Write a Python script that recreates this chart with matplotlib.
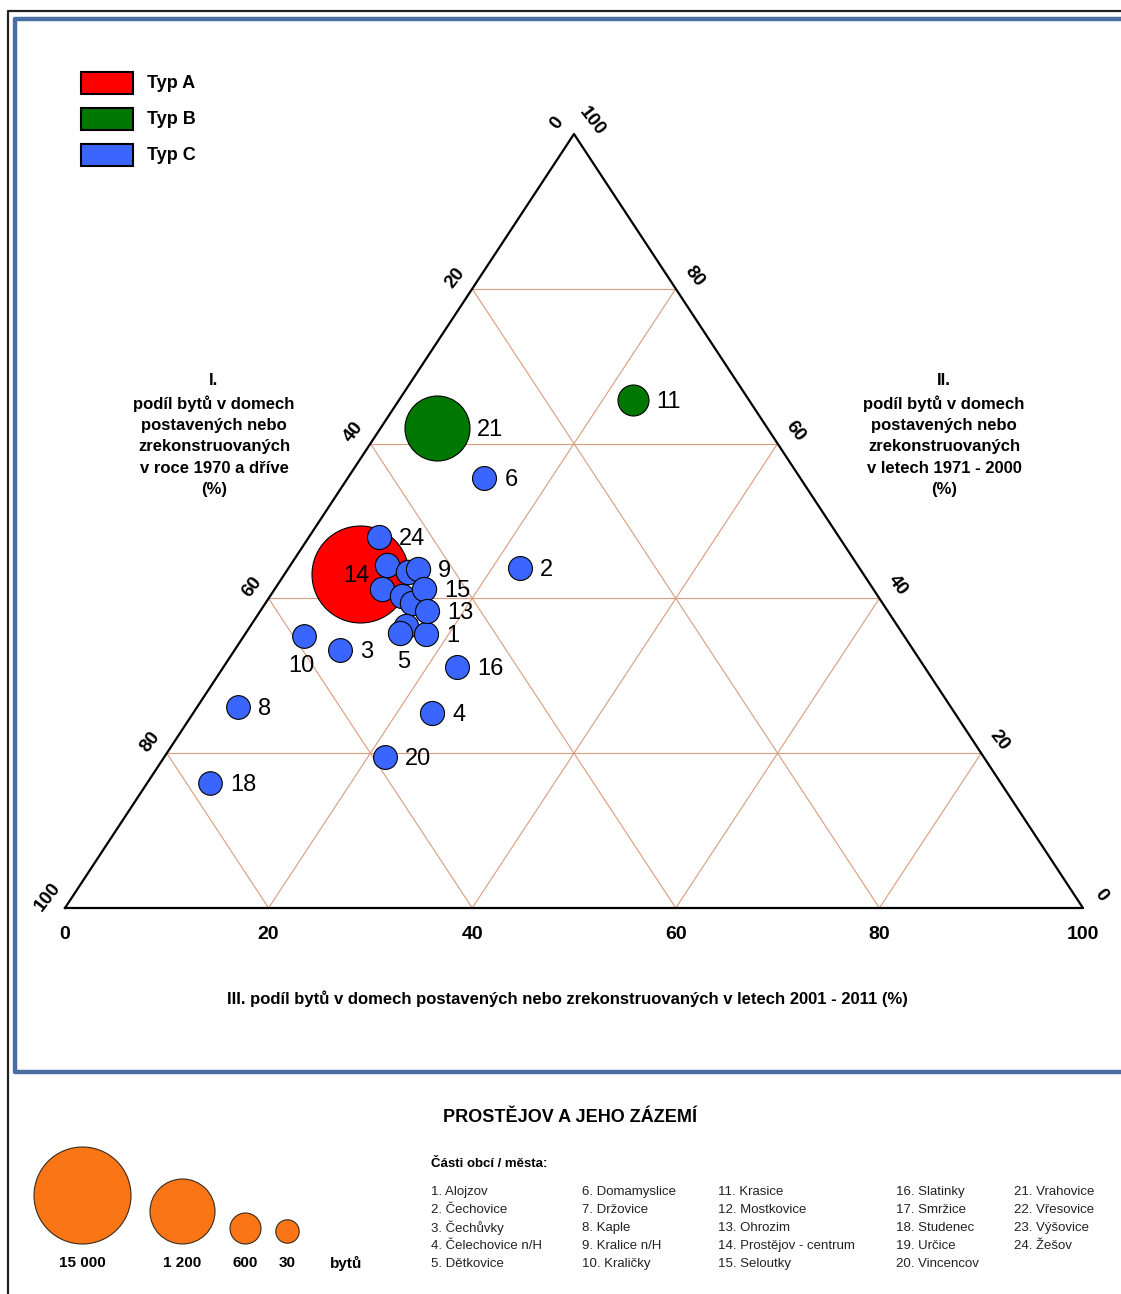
import numpy as np
import matplotlib.pyplot as plt
from matplotlib.patches import Rectangle

plt.rcParams['font.family'] = ['Liberation Sans', 'DejaVu Sans']

# data: shares of flats by construction period (%)
ids = list(range(1, 25))
names = ['Alojzov', 'Čechovice', 'Čechůvky', 'Čelechovice n/H', 'Dětkovice',
         'Domamyslice', 'Držovice', 'Kaple', 'Kralice n/H', 'Kraličky',
         'Krasice', 'Mostkovice', 'Ohrozim', 'Prostějov - centrum', 'Seloutky',
         'Slatinky', 'Smržice', 'Studenec', 'Určice', 'Vincencov',
         'Vrahovice', 'Vřesovice', 'Výšovice', 'Žešov']
share_1970 = [46.8, 33.4, 56.3, 51.3, 49.3, 31.0, 46.2, 70.0, 43.4, 59.0, 11.4, 44.6,
              45.2, 49.4, 44.1, 45.9, 48.3, 77.7, 46.7, 58.8, 32.5, 46.2, 48.3, 45.2]
share_1971_2000 = [35.4, 43.9, 33.3, 25.2, 35.5, 55.6, 44.3, 26.0, 43.8, 35.1, 65.6, 43.4,
                   38.4, 43.2, 41.2, 31.1, 41.2, 16.1, 40.3, 19.5, 62.0, 39.4, 36.4, 47.9]
share_2001_2011 = [17.8, 22.7, 10.4, 23.5, 15.2, 13.4, 9.5, 4.0, 12.8, 5.9, 23.0, 12.0,
                   16.4, 7.4, 14.7, 23.0, 10.5, 6.2, 13.0, 21.7, 5.5, 14.4, 15.3, 6.9]
flats = [80, 70, 60, 80, 90, 70, 100, 50, 90, 50, 600, 100,
         80, 15000, 90, 70, 100, 40, 100, 60, 1200, 100, 100, 80]
types = ['C', 'C', 'C', 'C', 'C', 'C', 'C', 'C', 'C', 'C', 'B', 'C',
         'C', 'A', 'C', 'C', 'C', 'C', 'C', 'C', 'B', 'C', 'C', 'C']

legend_flats = [15000, 1200, 600, 30]
legend_labels = ['15 000', '1 200', '600', '30']

type_colors = {'A': '#FF0000', 'B': '#007800', 'C': '#3A66FF'}
grid_color = '#D99C7C'
# points hidden inside the cluster carry no number in the chart
unlabelled = {7, 12, 17, 19, 22, 23}


def radius_px(n):
    return np.interp(n, [30, 600, 1200, 15000], [11.7, 15.5, 32.5, 48.5])


def size_pt2(n):
    return (2 * radius_px(n) * 0.72) ** 2


W, H = 1121, 1294
fig = plt.figure(figsize=(W / 100, H / 100), dpi=100)

# overlay axes in pixel coordinates for frames, legends and notes
ax0 = fig.add_axes([0, 0, 1, 1])
ax0.set_xlim(0, W)
ax0.set_ylim(H, 0)
ax0.axis('off')

ax0.plot([8, 8, W], [H, 11, 11], color='#222222', lw=1.6)
ax0.plot([W, 15, 15, W], [19, 19, 1072, 1072], color='#4A6EA2', lw=3.2)

# ternary axes: x = III + II/2, y = II
L, R, B, T = 65, 1083, 908, 134
ax = fig.add_axes([L / W, (H - B) / H, (R - L) / W, (B - T) / H])
ax.set_xlim(0, 100)
ax.set_ylim(0, 100)
ax.axis('off')
ax.patch.set_alpha(0)


def tern(ii, iii):
    ii = np.asarray(ii, dtype=float)
    iii = np.asarray(iii, dtype=float)
    return iii + ii / 2, ii


for v in [20, 40, 60, 80]:
    # constant II (horizontal)
    x, y = tern([v, v], [0, 100 - v])
    ax.plot(x, y, color=grid_color, lw=0.8, zorder=1)
    # constant III
    x, y = tern([0, 100 - v], [v, v])
    ax.plot(x, y, color=grid_color, lw=0.8, zorder=1)
    # constant I
    x, y = tern([0, 100 - v], [100 - v, 0])
    ax.plot(x, y, color=grid_color, lw=0.8, zorder=1)

ax.plot([0, 100, 50, 0], [0, 0, 100, 0], color='black', lw=1.6, zorder=2, clip_on=False)

ticks = [0, 20, 40, 60, 80, 100]
for v in ticks:
    ax.annotate(str(v), (v, 0), xytext=(0, -19), textcoords='offset points',
                ha='center', va='center', fontsize=14, fontweight='bold')
    x, y = tern(100 - v, 0)
    ax.annotate(str(v), (x, y), xytext=(-12, 8), textcoords='offset points',
                ha='center', va='center', fontsize=13.5, fontweight='bold', rotation=52)
    x, y = tern(v, 100 - v)
    ax.annotate(str(v), (x, y), xytext=(13, 9), textcoords='offset points',
                ha='center', va='center', fontsize=13.5, fontweight='bold', rotation=-52)

# bubbles, largest first
px, py = tern(share_1971_2000, share_2001_2011)
order = sorted(range(len(ids)), key=lambda i: -flats[i])
for k, i in enumerate(order):
    ax.scatter(px[i], py[i], s=size_pt2(flats[i]), color=type_colors[types[i]],
               edgecolors='black', linewidths=0.8, zorder=3 + k * 0.01, clip_on=False)

special = {14: ('center', -4, -2), 10: ('center', -2, -30), 5: ('center', 3, -29)}
for i, n in enumerate(ids):
    if n in unlabelled:
        continue
    if n in special:
        ha, dx, dy = special[n]
    else:
        ha, dx, dy = 'left', radius_px(flats[i]) + 8, -2
    ax.annotate(str(n), (px[i], py[i]), xytext=(dx * 0.72, dy * 0.72),
                textcoords='offset points', ha=ha, va='center', fontsize=17, zorder=5)

# axis titles
ax0.text(214, 435, 'I.\npodíl bytů v domech\npostavených nebo\nzrekonstruovaných\n'
         'v roce 1970 a dříve\n(%)', ha='center', va='center', fontsize=12,
         fontweight='bold', linespacing=1.52)
ax0.text(944, 435, 'II.\npodíl bytů v domech\npostavených nebo\nzrekonstruovaných\n'
         'v letech 1971 - 2000\n(%)', ha='center', va='center', fontsize=12,
         fontweight='bold', linespacing=1.52)
ax0.text(567, 999, 'III. podíl bytů v domech postavených nebo zrekonstruovaných '
         'v letech 2001 - 2011 (%)', ha='center', va='center', fontsize=12, fontweight='bold')

# type legend
for k, t in enumerate(['A', 'B', 'C']):
    y0 = 72 + 36 * k
    ax0.add_patch(Rectangle((81, y0), 52, 22, facecolor=type_colors[t],
                            edgecolor='black', lw=1.5))
    ax0.text(147, y0 + 12, 'Typ ' + t, ha='left', va='center', fontsize=13, fontweight='bold')

# size legend
leg_x = [82, 182, 245, 287]
for x, n, lab in zip(leg_x, legend_flats, legend_labels):
    r = radius_px(n)
    ax0.scatter(x, 1243 - r, s=size_pt2(n), color='#F97516', edgecolors='#3a2a1a', linewidths=0.8)
    ax0.text(x, 1263, lab, ha='center', va='center', fontsize=11, fontweight='bold')
ax0.text(346, 1263, 'bytů', ha='center', va='center', fontsize=11, fontweight='bold')

ax0.text(570, 1117, 'PROSTĚJOV A JEHO ZÁZEMÍ', ha='center', va='center',
         fontsize=13, fontweight='bold')
ax0.text(431, 1164, 'Části obcí / města:', ha='left', va='center', fontsize=9.5, fontweight='bold')
col_x = [431, 582, 718, 896, 1014]
for i, (n, name) in enumerate(zip(ids, names)):
    ax0.text(col_x[i // 5], 1192 + 18 * (i % 5), f'{n}. {name}', ha='left', va='center',
             fontsize=9.5, color='#222222')

fig.savefig('out.png', dpi=100)
